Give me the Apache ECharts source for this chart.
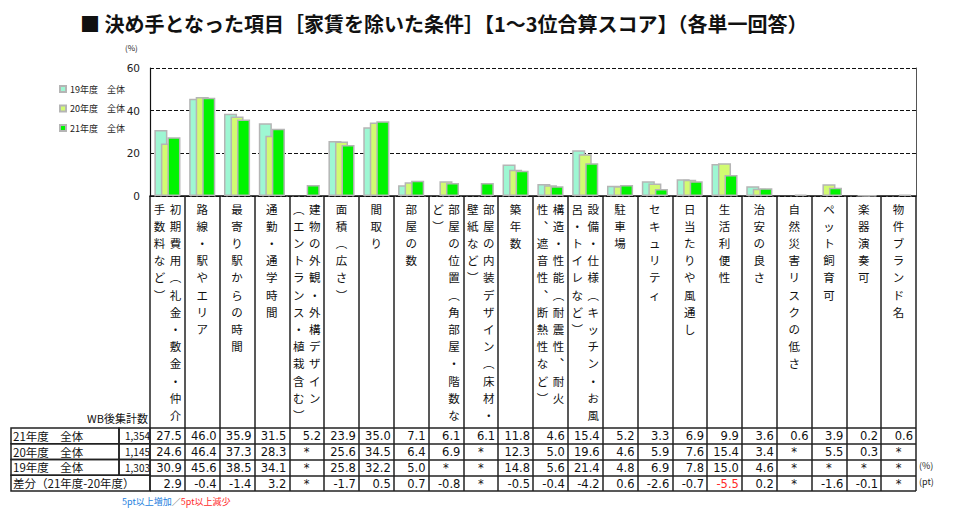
<!DOCTYPE html>
<html><head><meta charset="utf-8">
<script src="https://cdn.jsdelivr.net/npm/echarts@6/dist/echarts.min.js"></script>
<style>html,body{margin:0;padding:0;background:#fff}#c{width:956px;height:516px}</style>
</head><body><div id="c"></div>
<script>
const categories = ['初期費用（礼金・敷金・仲介手数料など）','路線・駅やエリア','最寄り駅からの時間','通勤・通学時間','建物の外観・外構デザイン（エントランス・植栽含む）','面積（広さ）','間取り','部屋の数','部屋の位置（角部屋・階数など）','部屋の内装デザイン（床材・壁紙など）','築年数','構造・性能（耐震性、耐火性、遮音性、断熱性など）','設備・仕様（キッチン・お風呂・トイレなど）','駐車場','セキュリティ','日当たりや風通し','生活利便性','治安の良さ','自然災害リスクの低さ','ペット飼育可','楽器演奏可','物件ブランド名'];
const seriesNames = ['19年度　全体','20年度　全体','21年度　全体'];
const v19 = [30.9,45.6,38.5,34.1,null,25.8,32.2,5.0,null,null,14.8,5.6,21.4,4.8,6.9,7.8,15.0,4.6,null,null,null,null];
const v20 = [24.6,46.4,37.3,28.3,null,25.6,34.5,6.4,6.9,null,12.3,5.0,19.6,4.6,5.9,7.6,15.4,3.4,null,5.5,0.3,null];
const v21 = [27.5,46.0,35.9,31.5,5.2,23.9,35.0,7.1,6.1,6.1,11.8,4.6,15.4,5.2,3.3,6.9,9.9,3.6,0.6,3.9,0.2,0.6];
const diff = [2.9,-0.4,-1.4,3.2,null,-1.7,0.5,0.7,-0.8,null,-0.5,-0.4,-4.2,0.6,-2.6,-0.7,-5.5,0.2,null,-1.6,-0.1,null];
const rowNames = ['21年度　全体','20年度　全体','19年度　全体','差分（21年度-20年度）'];
const rowCounts = ['1,354','1,145','1,303',''];
const yTicks = [0,20,40,60];

const JP = '"Noto Sans CJK JP", "Noto Sans", sans-serif';
const NUM = '"DejaVu Sans", Verdana, sans-serif';
const colors = ['#9ef7d3','#d2fb72','#00f400'];

const vmap = {'（':'︵','）':'︶','、':'︑','ー':'︱'};
const openers = '（「［【';
const closers = '）」］】、。';
function splitCols(s, max) {
  const ch = Array.from(s); const cols = [];
  while (ch.length > max) {
    let b = max;
    if (closers.includes(ch[b])) b--;
    if (openers.includes(ch[b-1])) b--;
    cols.push(ch.splice(0, b));
  }
  cols.push(ch);
  return cols.map(c => c.map(x => vmap[x] || x));
}
function vertLabel(name) {
  const cols = splitCols(name, 13);
  if (cols.length === 1) return cols[0].join('\n');
  const r = cols[0], l = cols[1];
  const n = Math.max(r.length, l.length);
  const lines = [];
  for (let i = 0; i < n; i++) lines.push('{l|' + (l[i] || '　') + '}{r|' + (r[i] || '　') + '}');
  return lines.join('\n');
}

const tableRows = [v21, v20, v19, diff];
const cells = [];
tableRows.forEach((arr, ri) => arr.forEach((v, ci) => {
  let color = '#111';
  if (ri === 3 && v != null) { if (v <= -5) color = '#ff2a2a'; else if (v >= 5) color = '#1e7fe0'; }
  cells.push({ci, ri, text: v == null ? '*' : v.toFixed(1), star: v == null, color});
}));

const lineC = '#222';
const chart = echarts.init(document.getElementById('c'), null, {renderer: 'svg'});
chart.setOption({
  animation: false,
  backgroundColor: '#fff',
  title: [
    {text: '■ 決め手となった項目［家賃を除いた条件］【1～3位合算スコア】（各単一回答）', left: 80, top: 13, padding: 0,
     textStyle: {fontFamily: JP, fontSize: 20, fontWeight: 'bold', color: '#111'}},
    {text: '(%)', left: 125, top: 43, padding: 0, textStyle: {fontFamily: JP, fontSize: 8, fontWeight: 'normal', color: '#222'}},
    {text: 'WB後集計数', right: 808, top: 412, padding: 0, textStyle: {fontFamily: JP, fontSize: 11, fontWeight: 'normal', color: '#111'}},
    {text: '(%)', left: 919, top: 461, padding: 0, textStyle: {fontFamily: JP, fontSize: 9, fontWeight: 'normal', color: '#222'}},
    {text: '(pt)', left: 919, top: 477, padding: 0, textStyle: {fontFamily: JP, fontSize: 9, fontWeight: 'normal', color: '#222'}},
    {text: '{b|5pt以上増加}{k|／}{r|5pt以上減少}', left: 122, top: 497, padding: 0,
     textStyle: {fontFamily: JP, fontSize: 9, fontWeight: 'normal', rich: {
       b: {color: '#1e7fe0', fontSize: 9, fontFamily: JP},
       k: {color: '#555', fontSize: 9, fontFamily: JP},
       r: {color: '#ff2a2a', fontSize: 9, fontFamily: JP}}}}
  ],
  legend: {
    data: seriesNames, orient: 'vertical', left: 54, top: 78, itemWidth: 6, itemHeight: 6, itemGap: 7.5,
    icon: 'rect', textStyle: {fontFamily: JP, fontSize: 9, lineHeight: 12, color: '#222', padding: [0,0,0,-1]}
  },
  grid: [
    {left: 150, right: 40, top: 68, height: 128},
    {left: 150, right: 40, top: 196, height: 232},
    {left: 150, right: 40, top: 428, height: 63}
  ],
  xAxis: [
    {type: 'category', gridIndex: 0, data: categories,
     axisLine: {lineStyle: {color: '#111', width: 1.5}}, axisTick: {show: false}, splitLine: {show: false},
     axisLabel: {interval: 0, margin: 4, formatter: vertLabel, fontFamily: JP, fontSize: 11.5, lineHeight: 17.2,
       color: '#111', verticalAlign: 'top',
       rich: {l: {width: 16, align: 'center', fontFamily: JP, fontSize: 11.5, lineHeight: 17.2, color: '#111'},
              r: {width: 16, align: 'center', fontFamily: JP, fontSize: 11.5, lineHeight: 17.2, color: '#111'}}}},
    {type: 'category', gridIndex: 1, data: categories, axisLine: {show: false}, axisTick: {show: false}, axisLabel: {show: false},
     splitLine: {show: true, interval: 0, lineStyle: {color: lineC, width: 1.5}}},
    {type: 'category', gridIndex: 2, data: categories, axisLine: {show: false}, axisTick: {show: false}, axisLabel: {show: false},
     splitLine: {show: true, interval: 0, lineStyle: {color: lineC, width: 1.5}}}
  ],
  yAxis: [
    {type: 'value', gridIndex: 0, min: yTicks[0], max: yTicks[yTicks.length-1], interval: 20,
     axisLine: {show: true, lineStyle: {color: '#111', width: 1.2}}, axisTick: {show: false},
     splitLine: {show: true, lineStyle: {color: '#111', type: [4,2], width: 1}},
     axisLabel: {fontFamily: NUM, fontSize: 10.5, color: '#222', margin: 10}},
    {type: 'value', gridIndex: 0, position: 'right', min: 0, max: 60,
     axisLine: {show: true, lineStyle: {color: '#555', width: 1}}, axisTick: {show: false}, axisLabel: {show: false}, splitLine: {show: false}},
    {type: 'value', gridIndex: 1, min: 0, max: 1, axisLine: {show: false}, axisTick: {show: false}, axisLabel: {show: false}, splitLine: {show: false}},
    {type: 'category', gridIndex: 2, data: rowNames, inverse: true,
     axisLine: {show: false}, axisTick: {show: false},
     splitLine: {show: true, interval: 0, lineStyle: {color: lineC, width: 1.5}},
     axisLabel: {interval: 0, margin: 0, align: 'right',
       formatter: (val, idx) => idx < 3 ? '{a|' + val + '}{b|' + rowCounts[idx] + '}' : '{c|' + val + '}',
       rich: {
         a: {width: 106, height: 15.75, align: 'left', padding: [0,0,0,2], fontFamily: JP, fontSize: 11.5, color: '#111', borderColor: lineC, borderWidth: 1.5},
         b: {width: 31, height: 15.75, align: 'right', fontFamily: JP, fontSize: 10, color: '#111', borderColor: lineC, borderWidth: 1.5},
         c: {width: 137, height: 15.75, align: 'left', padding: [0,0,0,2], fontFamily: JP, fontSize: 11.5, color: '#111', borderColor: lineC, borderWidth: 1.5}
       }}}
  ],
  series: [
    {name: seriesNames[0], type: 'bar', xAxisIndex: 0, yAxisIndex: 0, data: v19, barCategoryGap: '25%', barGap: '-50%',
     itemStyle: {color: colors[0], borderColor: '#b5b5b5', borderWidth: 1.5}},
    {name: seriesNames[1], type: 'bar', xAxisIndex: 0, yAxisIndex: 0, data: v20, barCategoryGap: '25%', barGap: '-50%',
     itemStyle: {color: colors[1], borderColor: '#b5b5b5', borderWidth: 1.5}},
    {name: seriesNames[2], type: 'bar', xAxisIndex: 0, yAxisIndex: 0, data: v21, barCategoryGap: '25%', barGap: '-50%',
     itemStyle: {color: colors[2], borderColor: '#b5b5b5', borderWidth: 1.5}},
    {type: 'custom', xAxisIndex: 2, yAxisIndex: 3, silent: true, clip: false,
     data: cells.map(c => [c.ci, c.ri]),
     renderItem: (params, api) => {
       const c = cells[params.dataIndex];
       const p = api.coord([c.ci, c.ri]);
       const s = api.size([1, 1]);
       return {type: 'text', x: c.star ? p[0] : p[0] + s[0] / 2 - 3, y: p[1] + 0.5,
         style: {text: c.text, align: c.star ? 'center' : 'right', verticalAlign: 'middle',
           fill: c.color, fontFamily: NUM, fontSize: 11.5}};
     }}
  ]
});
</script></body></html>
